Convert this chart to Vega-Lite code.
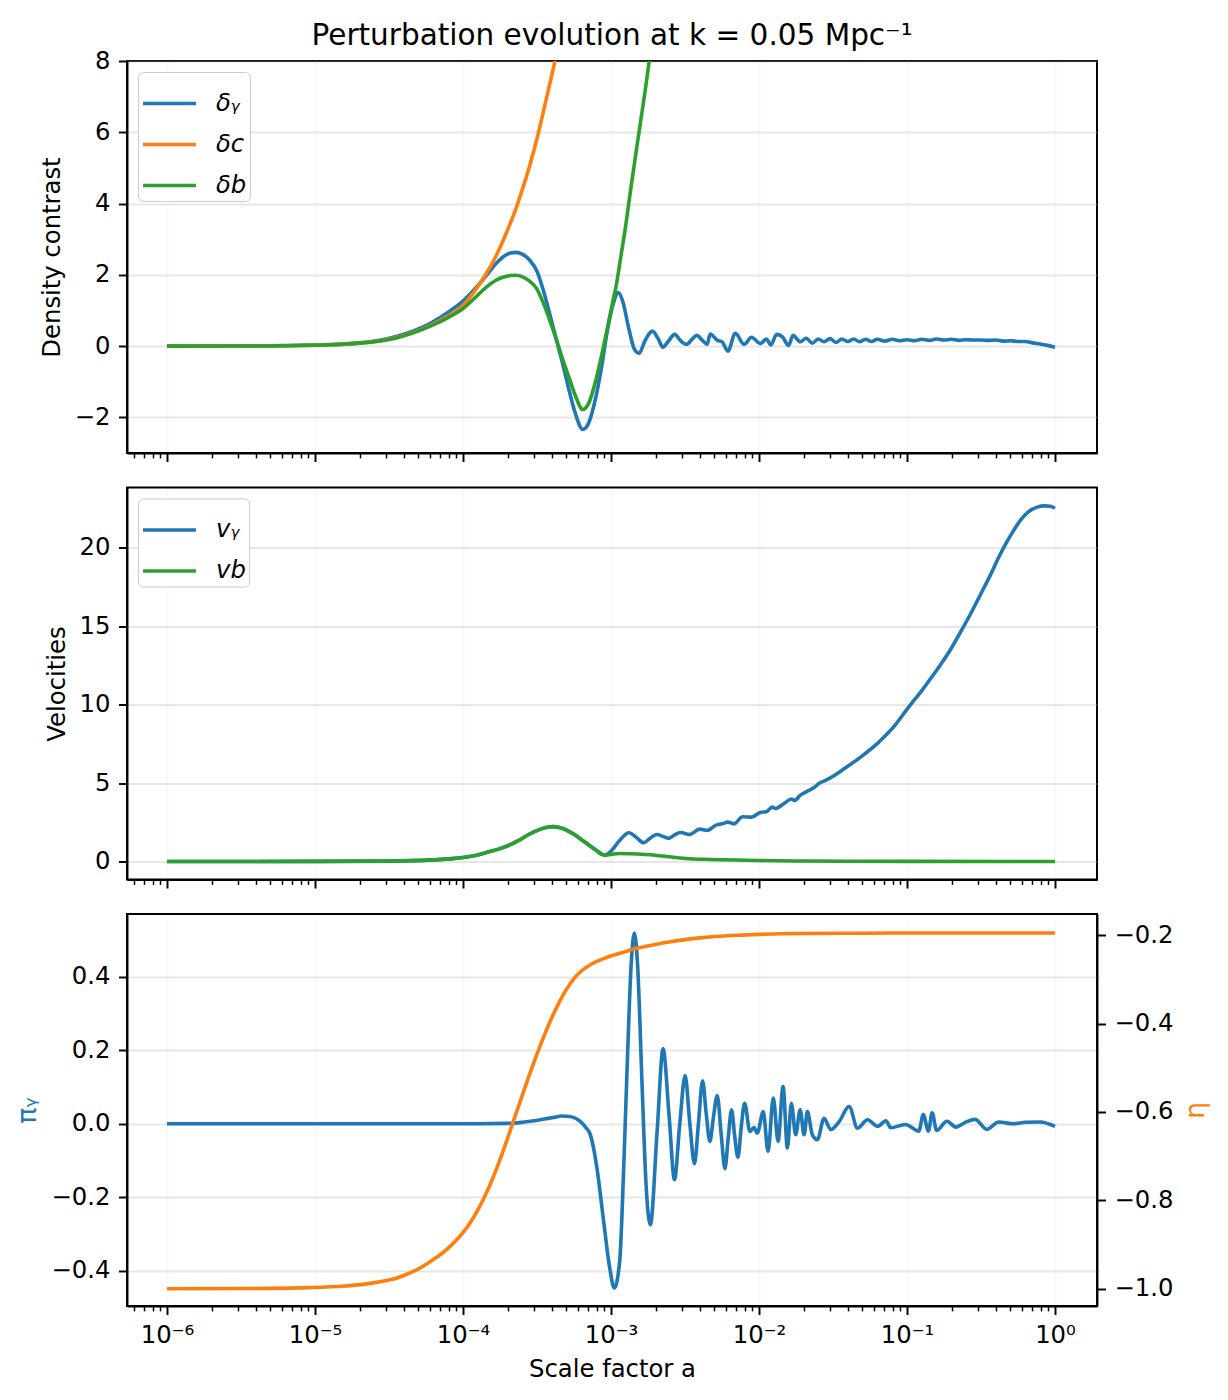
{
  "$schema": "https://vega.github.io/schema/vega-lite/v6.json",
  "background": "white",
  "padding": {"left": 12, "top": 20, "right": 10, "bottom": 10},
  "autosize": {"type": "pad"},
  "title": {"text": "Perturbation evolution at k = 0.05 Mpc⁻¹", "fontSize": 29.5, "font": "DejaVu Sans", "fontWeight": "normal", "color": "black", "anchor": "middle", "frame": "group", "offset": -26, "baseline": "alphabetic"},
  "bounds": "flush",
  "spacing": 34.5,
  "datasets": {
    "p1": [
      {"a":1e-6,"v":0,"s":"δᵧ"},{"a":3.162e-6,"v":0.002,"s":"δᵧ"},{"a":1e-5,"v":0.03,"s":"δᵧ"},{"a":1.995e-5,"v":0.09,"s":"δᵧ"},{"a":3.548e-5,"v":0.27,"s":"δᵧ"},{"a":6.026e-5,"v":0.64,"s":"δᵧ"},{"a":7.943e-5,"v":0.95,"s":"δᵧ"},{"a":1e-4,"v":1.26,"s":"δᵧ"},{"a":1.202e-4,"v":1.6,"s":"δᵧ"},{"a":1.445e-4,"v":1.99,"s":"δᵧ"},{"a":1.66e-4,"v":2.3,"s":"δᵧ"},{"a":1.862e-4,"v":2.5,"s":"δᵧ"},{"a":2.089e-4,"v":2.61,"s":"δᵧ"},{"a":2.291e-4,"v":2.63,"s":"δᵧ"},{"a":2.512e-4,"v":2.58,"s":"δᵧ"},{"a":2.818e-4,"v":2.42,"s":"δᵧ"},{"a":3.162e-4,"v":2.1,"s":"δᵧ"},{"a":3.467e-4,"v":1.61,"s":"δᵧ"},{"a":3.802e-4,"v":1.0,"s":"δᵧ"},{"a":4.266e-4,"v":0.2,"s":"δᵧ"},{"a":4.786e-4,"v":-0.6,"s":"δᵧ"},{"a":5.248e-4,"v":-1.29,"s":"δᵧ"},{"a":5.754e-4,"v":-1.9,"s":"δᵧ"},{"a":6.457e-4,"v":-2.34,"s":"δᵧ"},{"a":7.079e-4,"v":-2.15,"s":"δᵧ"},{"a":7.943e-4,"v":-1.39,"s":"δᵧ"},{"a":8.71e-4,"v":-0.5,"s":"δᵧ"},{"a":9.333e-4,"v":0.3,"s":"δᵧ"},{"a":1.023e-3,"v":1.1,"s":"δᵧ"},{"a":1.122e-3,"v":1.5,"s":"δᵧ"},{"a":1.202e-3,"v":1.25,"s":"δᵧ"},{"a":1.318e-3,"v":0.5,"s":"δᵧ"},{"a":1.445e-3,"v":-0.1,"s":"δᵧ"},{"a":1.549e-3,"v":-0.2,"s":"δᵧ"},{"a":1.698e-3,"v":0.15,"s":"δᵧ"},{"a":1.905e-3,"v":0.42,"s":"δᵧ"},{"a":2.089e-3,"v":0.2,"s":"δᵧ"},{"a":2.239e-3,"v":-0.03,"s":"δᵧ"},{"a":2.455e-3,"v":0.15,"s":"δᵧ"},{"a":2.692e-3,"v":0.33,"s":"δᵧ"},{"a":2.951e-3,"v":0.15,"s":"δᵧ"},{"a":3.236e-3,"v":0.05,"s":"δᵧ"},{"a":3.548e-3,"v":0.2,"s":"δᵧ"},{"a":3.802e-3,"v":0.3,"s":"δᵧ"},{"a":4.169e-3,"v":0.15,"s":"δᵧ"},{"a":4.467e-3,"v":0.05,"s":"δᵧ"},{"a":4.677e-3,"v":0.34,"s":"δᵧ"},{"a":5.248e-3,"v":0.16,"s":"δᵧ"},{"a":5.623e-3,"v":0.12,"s":"δᵧ"},{"a":6.166e-3,"v":-0.14,"s":"δᵧ"},{"a":6.918e-3,"v":0.36,"s":"δᵧ"},{"a":7.943e-3,"v":0.05,"s":"δᵧ"},{"a":8.913e-3,"v":0.25,"s":"δᵧ"},{"a":1.023e-2,"v":0.07,"s":"δᵧ"},{"a":1.122e-2,"v":0.2,"s":"δᵧ"},{"a":1.202e-2,"v":0.03,"s":"δᵧ"},{"a":1.318e-2,"v":0.33,"s":"δᵧ"},{"a":1.445e-2,"v":0.25,"s":"δᵧ"},{"a":1.585e-2,"v":0.02,"s":"δᵧ"},{"a":1.698e-2,"v":0.3,"s":"δᵧ"},{"a":1.905e-2,"v":0.12,"s":"δᵧ"},{"a":2.089e-2,"v":0.22,"s":"δᵧ"},{"a":2.291e-2,"v":0.08,"s":"δᵧ"},{"a":2.512e-2,"v":0.2,"s":"δᵧ"},{"a":2.754e-2,"v":0.12,"s":"δᵧ"},{"a":3.02e-2,"v":0.21,"s":"δᵧ"},{"a":3.311e-2,"v":0.1,"s":"δᵧ"},{"a":3.631e-2,"v":0.2,"s":"δᵧ"},{"a":3.981e-2,"v":0.13,"s":"δᵧ"},{"a":4.365e-2,"v":0.2,"s":"δᵧ"},{"a":4.786e-2,"v":0.12,"s":"δᵧ"},{"a":5.248e-2,"v":0.19,"s":"δᵧ"},{"a":5.754e-2,"v":0.13,"s":"δᵧ"},{"a":6.31e-2,"v":0.19,"s":"δᵧ"},{"a":7.079e-2,"v":0.14,"s":"δᵧ"},{"a":7.943e-2,"v":0.19,"s":"δᵧ"},{"a":8.913e-2,"v":0.15,"s":"δᵧ"},{"a":0.1,"v":0.18,"s":"δᵧ"},{"a":0.1122,"v":0.15,"s":"δᵧ"},{"a":0.1259,"v":0.19,"s":"δᵧ"},{"a":0.1413,"v":0.16,"s":"δᵧ"},{"a":0.1585,"v":0.2,"s":"δᵧ"},{"a":0.1778,"v":0.17,"s":"δᵧ"},{"a":0.1995,"v":0.19,"s":"δᵧ"},{"a":0.2239,"v":0.16,"s":"δᵧ"},{"a":0.2512,"v":0.18,"s":"δᵧ"},{"a":0.2818,"v":0.17,"s":"δᵧ"},{"a":0.3162,"v":0.17,"s":"δᵧ"},{"a":0.3548,"v":0.16,"s":"δᵧ"},{"a":0.3981,"v":0.17,"s":"δᵧ"},{"a":0.4467,"v":0.14,"s":"δᵧ"},{"a":0.5012,"v":0.15,"s":"δᵧ"},{"a":0.5623,"v":0.13,"s":"δᵧ"},{"a":0.631,"v":0.13,"s":"δᵧ"},{"a":0.7079,"v":0.09,"s":"δᵧ"},{"a":0.7943,"v":0.06,"s":"δᵧ"},{"a":0.8913,"v":0.02,"s":"δᵧ"},{"a":1.0,"v":-0.03,"s":"δᵧ"},
      {"a":1e-6,"v":0,"s":"δc"},{"a":3.162e-6,"v":0.002,"s":"δc"},{"a":1e-5,"v":0.025,"s":"δc"},{"a":1.995e-5,"v":0.08,"s":"δc"},{"a":3.548e-5,"v":0.24,"s":"δc"},{"a":6.026e-5,"v":0.58,"s":"δc"},{"a":7.943e-5,"v":0.85,"s":"δc"},{"a":1e-4,"v":1.14,"s":"δc"},{"a":1.202e-4,"v":1.55,"s":"δc"},{"a":1.445e-4,"v":2.05,"s":"δc"},{"a":1.66e-4,"v":2.5,"s":"δc"},{"a":1.862e-4,"v":2.95,"s":"δc"},{"a":2.089e-4,"v":3.45,"s":"δc"},{"a":2.291e-4,"v":3.88,"s":"δc"},{"a":2.512e-4,"v":4.38,"s":"δc"},{"a":2.818e-4,"v":5.05,"s":"δc"},{"a":3.162e-4,"v":5.82,"s":"δc"},{"a":3.548e-4,"v":6.7,"s":"δc"},{"a":3.981e-4,"v":7.6,"s":"δc"},{"a":4.266e-4,"v":8.15,"s":"δc"},
      {"a":1e-6,"v":0,"s":"δb"},{"a":3.162e-6,"v":0.002,"s":"δb"},{"a":1e-5,"v":0.025,"s":"δb"},{"a":1.995e-5,"v":0.08,"s":"δb"},{"a":3.548e-5,"v":0.23,"s":"δb"},{"a":6.026e-5,"v":0.56,"s":"δb"},{"a":7.943e-5,"v":0.8,"s":"δb"},{"a":1e-4,"v":1.05,"s":"δb"},{"a":1.202e-4,"v":1.35,"s":"δb"},{"a":1.445e-4,"v":1.66,"s":"δb"},{"a":1.66e-4,"v":1.84,"s":"δb"},{"a":1.862e-4,"v":1.93,"s":"δb"},{"a":2.089e-4,"v":1.98,"s":"δb"},{"a":2.291e-4,"v":1.99,"s":"δb"},{"a":2.512e-4,"v":1.95,"s":"δb"},{"a":2.818e-4,"v":1.82,"s":"δb"},{"a":3.162e-4,"v":1.6,"s":"δb"},{"a":3.467e-4,"v":1.24,"s":"δb"},{"a":3.802e-4,"v":0.8,"s":"δb"},{"a":4.266e-4,"v":0.2,"s":"δb"},{"a":4.786e-4,"v":-0.45,"s":"δb"},{"a":5.248e-4,"v":-0.92,"s":"δb"},{"a":5.754e-4,"v":-1.4,"s":"δb"},{"a":6.457e-4,"v":-1.78,"s":"δb"},{"a":7.079e-4,"v":-1.6,"s":"δb"},{"a":7.943e-4,"v":-0.92,"s":"δb"},{"a":8.71e-4,"v":-0.2,"s":"δb"},{"a":9.333e-4,"v":0.39,"s":"δb"},{"a":1.023e-3,"v":1.2,"s":"δb"},{"a":1.096e-3,"v":1.8,"s":"δb"},{"a":1.175e-3,"v":2.6,"s":"δb"},{"a":1.259e-3,"v":3.39,"s":"δb"},{"a":1.349e-3,"v":4.3,"s":"δb"},{"a":1.479e-3,"v":5.45,"s":"δb"},{"a":1.585e-3,"v":6.3,"s":"δb"},{"a":1.698e-3,"v":7.13,"s":"δb"},{"a":1.82e-3,"v":8.05,"s":"δb"}
    ],
    "p2": [
      {"a":1e-6,"v":0,"s":"vᵧ"},{"a":1e-5,"v":0.003,"s":"vᵧ"},{"a":3.162e-5,"v":0.02,"s":"vᵧ"},{"a":6.31e-5,"v":0.1,"s":"vᵧ"},{"a":1e-4,"v":0.25,"s":"vᵧ"},{"a":1.259e-4,"v":0.42,"s":"vᵧ"},{"a":1.514e-4,"v":0.63,"s":"vᵧ"},{"a":1.778e-4,"v":0.82,"s":"vᵧ"},{"a":2.089e-4,"v":1.08,"s":"vᵧ"},{"a":2.455e-4,"v":1.41,"s":"vᵧ"},{"a":2.818e-4,"v":1.75,"s":"vᵧ"},{"a":3.311e-4,"v":2.05,"s":"vᵧ"},{"a":3.802e-4,"v":2.2,"s":"vᵧ"},{"a":4.074e-4,"v":2.22,"s":"vᵧ"},{"a":4.467e-4,"v":2.17,"s":"vᵧ"},{"a":5.012e-4,"v":2.0,"s":"vᵧ"},{"a":5.623e-4,"v":1.73,"s":"vᵧ"},{"a":6.31e-4,"v":1.4,"s":"vᵧ"},{"a":7.079e-4,"v":1.05,"s":"vᵧ"},{"a":7.943e-4,"v":0.72,"s":"vᵧ"},{"a":8.71e-4,"v":0.45,"s":"vᵧ"},{"a":9.12e-4,"v":0.4,"s":"vᵧ"},
      {"a":1e-3,"v":0.66,"s":"vᵧ"},{"a":1.148e-3,"v":1.35,"s":"vᵧ"},{"a":1.318e-3,"v":1.83,"s":"vᵧ"},{"a":1.479e-3,"v":1.55,"s":"vᵧ"},{"a":1.66e-3,"v":1.19,"s":"vᵧ"},{"a":1.82e-3,"v":1.45,"s":"vᵧ"},{"a":2.042e-3,"v":1.72,"s":"vᵧ"},{"a":2.239e-3,"v":1.6,"s":"vᵧ"},{"a":2.455e-3,"v":1.47,"s":"vᵧ"},{"a":2.692e-3,"v":1.7,"s":"vᵧ"},{"a":2.951e-3,"v":1.85,"s":"vᵧ"},{"a":3.388e-3,"v":1.72,"s":"vᵧ"},{"a":3.981e-3,"v":2.06,"s":"vᵧ"},{"a":4.467e-3,"v":1.98,"s":"vᵧ"},{"a":5.129e-3,"v":2.32,"s":"vᵧ"},{"a":5.623e-3,"v":2.4,"s":"vᵧ"},{"a":6.166e-3,"v":2.51,"s":"vᵧ"},{"a":6.761e-3,"v":2.4,"s":"vᵧ"},{"a":7.762e-3,"v":2.85,"s":"vᵧ"},{"a":8.913e-3,"v":2.83,"s":"vᵧ"},{"a":1.023e-2,"v":3.13,"s":"vᵧ"},{"a":1.122e-2,"v":3.17,"s":"vᵧ"},{"a":1.23e-2,"v":3.47,"s":"vᵧ"},{"a":1.288e-2,"v":3.38,"s":"vᵧ"},{"a":1.479e-2,"v":3.7,"s":"vᵧ"},{"a":1.66e-2,"v":3.98,"s":"vᵧ"},{"a":1.738e-2,"v":3.89,"s":"vᵧ"},{"a":1.905e-2,"v":4.23,"s":"vᵧ"},{"a":2.138e-2,"v":4.5,"s":"vᵧ"},{"a":2.344e-2,"v":4.7,"s":"vᵧ"},{"a":2.57e-2,"v":5.0,"s":"vᵧ"},{"a":2.818e-2,"v":5.17,"s":"vᵧ"},{"a":3.311e-2,"v":5.55,"s":"vᵧ"},{"a":3.802e-2,"v":5.94,"s":"vᵧ"},{"a":4.467e-2,"v":6.4,"s":"vᵧ"},{"a":5.129e-2,"v":6.83,"s":"vᵧ"},{"a":6.026e-2,"v":7.35,"s":"vᵧ"},{"a":6.918e-2,"v":7.89,"s":"vᵧ"},{"a":8.318e-2,"v":8.7,"s":"vᵧ"},{"a":0.1,"v":9.7,"s":"vᵧ"},{"a":0.1122,"v":10.3,"s":"vᵧ"},{"a":0.1259,"v":10.9,"s":"vᵧ"},{"a":0.1479,"v":11.8,"s":"vᵧ"},{"a":0.1698,"v":12.6,"s":"vᵧ"},{"a":0.1995,"v":13.6,"s":"vᵧ"},{"a":0.2291,"v":14.6,"s":"vᵧ"},{"a":0.2692,"v":15.8,"s":"vᵧ"},{"a":0.309,"v":16.9,"s":"vᵧ"},{"a":0.3631,"v":18.2,"s":"vᵧ"},{"a":0.4169,"v":19.4,"s":"vᵧ"},{"a":0.4677,"v":20.3,"s":"vᵧ"},{"a":0.5248,"v":21.1,"s":"vᵧ"},{"a":0.5888,"v":21.8,"s":"vᵧ"},{"a":0.6607,"v":22.3,"s":"vᵧ"},{"a":0.7586,"v":22.6,"s":"vᵧ"},{"a":0.8511,"v":22.68,"s":"vᵧ"},{"a":0.9333,"v":22.65,"s":"vᵧ"},{"a":1.0,"v":22.53,"s":"vᵧ"},
      {"a":1e-6,"v":0,"s":"vb"},{"a":1e-5,"v":0.003,"s":"vb"},{"a":3.162e-5,"v":0.02,"s":"vb"},{"a":6.31e-5,"v":0.1,"s":"vb"},{"a":1e-4,"v":0.25,"s":"vb"},{"a":1.259e-4,"v":0.42,"s":"vb"},{"a":1.514e-4,"v":0.63,"s":"vb"},{"a":1.778e-4,"v":0.82,"s":"vb"},{"a":2.089e-4,"v":1.08,"s":"vb"},{"a":2.455e-4,"v":1.41,"s":"vb"},{"a":2.818e-4,"v":1.75,"s":"vb"},{"a":3.311e-4,"v":2.05,"s":"vb"},{"a":3.802e-4,"v":2.2,"s":"vb"},{"a":4.074e-4,"v":2.22,"s":"vb"},{"a":4.467e-4,"v":2.17,"s":"vb"},{"a":5.012e-4,"v":2.0,"s":"vb"},{"a":5.623e-4,"v":1.73,"s":"vb"},{"a":6.31e-4,"v":1.4,"s":"vb"},{"a":7.079e-4,"v":1.05,"s":"vb"},{"a":7.943e-4,"v":0.72,"s":"vb"},{"a":8.71e-4,"v":0.45,"s":"vb"},{"a":9.12e-4,"v":0.4,"s":"vb"},
      {"a":1e-3,"v":0.45,"s":"vb"},{"a":1.148e-3,"v":0.51,"s":"vb"},{"a":1.349e-3,"v":0.49,"s":"vb"},{"a":1.995e-3,"v":0.4,"s":"vb"},{"a":2.57e-3,"v":0.28,"s":"vb"},{"a":3.388e-3,"v":0.17,"s":"vb"},{"a":4.677e-3,"v":0.13,"s":"vb"},{"a":1e-2,"v":0.06,"s":"vb"},{"a":1.995e-2,"v":0.03,"s":"vb"},{"a":3.981e-2,"v":0.01,"s":"vb"},{"a":0.1,"v":0.005,"s":"vb"},{"a":1.0,"v":0,"s":"vb"}
    ],
    "pi": [
      {"a":1e-6,"v":0},{"a":1e-4,"v":0},{"a":1.995e-4,"v":0.001},{"a":2.512e-4,"v":0.004},{"a":3.02e-4,"v":0.008},{"a":3.548e-4,"v":0.013},{"a":4.074e-4,"v":0.017},{"a":4.677e-4,"v":0.021},{"a":5.248e-4,"v":0.02},{"a":5.754e-4,"v":0.015},{"a":6.166e-4,"v":0.007},{"a":6.761e-4,"v":-0.01},{"a":7.244e-4,"v":-0.029},{"a":8.035e-4,"v":-0.12},{"a":8.913e-4,"v":-0.264},{"a":9.795e-4,"v":-0.391},{"a":1.054e-3,"v":-0.447},{"a":1.146e-3,"v":-0.373},{"a":1.219e-3,"v":-0.12},{"a":1.297e-3,"v":0.197},{"a":1.365e-3,"v":0.424},{"a":1.439e-3,"v":0.519},{"a":1.517e-3,"v":0.424},{"a":1.622e-3,"v":0.107},{"a":1.726e-3,"v":-0.165},{"a":1.845e-3,"v":-0.275},{"a":2.051e-3,"v":-0.02},{"a":2.249e-3,"v":0.204},{"a":2.472e-3,"v":0.02},{"a":2.685e-3,"v":-0.152},{"a":2.917e-3,"v":0.0},{"a":3.17e-3,"v":0.131},{"a":3.412e-3,"v":0.0},{"a":3.664e-3,"v":-0.109},{"a":3.899e-3,"v":0.0},{"a":4.159e-3,"v":0.117},{"a":4.395e-3,"v":0.03},{"a":4.656e-3,"v":-0.048},{"a":4.932e-3,"v":0.02},{"a":5.224e-3,"v":0.077},{"a":5.559e-3,"v":-0.03},{"a":5.888e-3,"v":-0.122},{"a":6.194e-3,"v":-0.04},{"a":6.531e-3,"v":0.038},{"a":6.839e-3,"v":-0.03},{"a":7.211e-3,"v":-0.091},{"a":7.586e-3,"v":-0.01},{"a":7.998e-3,"v":0.056},{"a":8.69e-3,"v":-0.021},{"a":9.247e-3,"v":-0.01},{"a":9.75e-3,"v":-0.025},{"a":1.069e-2,"v":0.033},{"a":1.151e-2,"v":-0.075},{"a":1.25e-2,"v":0.07},{"a":1.346e-2,"v":-0.048},{"a":1.455e-2,"v":0.101},{"a":1.556e-2,"v":-0.066},{"a":1.656e-2,"v":0.056},{"a":1.77e-2,"v":-0.03},{"a":1.897e-2,"v":0.038},{"a":2.018e-2,"v":-0.03},{"a":2.123e-2,"v":0.033},{"a":2.296e-2,"v":-0.03},{"a":2.483e-2,"v":-0.043},{"a":2.754e-2,"v":0.015},{"a":3.055e-2,"v":-0.016},{"a":3.483e-2,"v":0.006},{"a":4.064e-2,"v":0.047},{"a":4.634e-2,"v":-0.012},{"a":5.42e-2,"v":0.011},{"a":6.324e-2,"v":-0.007},{"a":7.211e-2,"v":0.008},{"a":7.762e-2,"v":-0.011},{"a":9.772e-2,"v":-0.002},{"a":0.1202,"v":-0.02},{"a":0.1288,"v":0.025},{"a":0.1396,"v":-0.02},{"a":0.1479,"v":0.03},{"a":0.1585,"v":-0.018},{"a":0.1862,"v":0.007},{"a":0.2138,"v":-0.009},{"a":0.2512,"v":0.005},{"a":0.2884,"v":0.012},{"a":0.3467,"v":-0.015},{"a":0.4169,"v":0.005},{"a":0.5248,"v":0.0},{"a":0.631,"v":0.004},{"a":0.7943,"v":0.005},{"a":1.0,"v":-0.007}
    ],
    "eta": [
      {"a":1e-6,"v":-1.0},{"a":3.162e-6,"v":-0.9995},{"a":7.943e-6,"v":-0.998},{"a":1.413e-5,"v":-0.995},{"a":2.239e-5,"v":-0.989},{"a":3.162e-5,"v":-0.98},{"a":3.548e-5,"v":-0.976},{"a":3.981e-5,"v":-0.97},{"a":4.467e-5,"v":-0.963},{"a":5.012e-5,"v":-0.955},{"a":5.623e-5,"v":-0.945},{"a":6.31e-5,"v":-0.934},{"a":7.079e-5,"v":-0.922},{"a":7.943e-5,"v":-0.908},{"a":8.913e-5,"v":-0.892},{"a":1e-4,"v":-0.873},{"a":1.122e-4,"v":-0.85},{"a":1.259e-4,"v":-0.822},{"a":1.413e-4,"v":-0.789},{"a":1.585e-4,"v":-0.751},{"a":1.778e-4,"v":-0.708},{"a":1.995e-4,"v":-0.661},{"a":2.239e-4,"v":-0.612},{"a":2.512e-4,"v":-0.563},{"a":2.818e-4,"v":-0.515},{"a":3.162e-4,"v":-0.469},{"a":3.548e-4,"v":-0.426},{"a":3.981e-4,"v":-0.387},{"a":4.467e-4,"v":-0.352},{"a":5.012e-4,"v":-0.322},{"a":5.623e-4,"v":-0.298},{"a":6.31e-4,"v":-0.281},{"a":7.079e-4,"v":-0.269},{"a":7.943e-4,"v":-0.26},{"a":8.913e-4,"v":-0.253},{"a":1e-3,"v":-0.247},{"a":1.122e-3,"v":-0.242},{"a":1.259e-3,"v":-0.237},{"a":1.413e-3,"v":-0.232},{"a":1.585e-3,"v":-0.228},{"a":1.995e-3,"v":-0.221},{"a":2.512e-3,"v":-0.215},{"a":3.162e-3,"v":-0.21},{"a":3.981e-3,"v":-0.206},{"a":5.012e-3,"v":-0.203},{"a":7.079e-3,"v":-0.2},{"a":1e-2,"v":-0.198},{"a":1.995e-2,"v":-0.196},{"a":5.012e-2,"v":-0.1955},{"a":0.1,"v":-0.195},{"a":1.0,"v":-0.195}
    ]
  },
  "vconcat": [
    {
      "width": 970, "height": 392,
      "data": {"name": "p1"},
      "mark": {"type": "line", "strokeWidth": 3.6, "clip": true, "interpolate": "monotone"},
      "encoding": {
        "x": {"field": "a", "type": "quantitative", "scale": {"type": "log", "domain": [5.37e-7, 1.923], "nice": false},
          "axis": {"title": null, "labels": false, "values": [6e-7,7e-7,8e-7,9e-7,1e-6,2e-6,3e-6,4e-6,5e-6,6e-6,7e-6,8e-6,9e-6,1e-5,2e-5,3e-5,4e-5,5e-5,6e-5,7e-5,8e-5,9e-5,0.0001,0.0002,0.0003,0.0004,0.0005,0.0006,0.0007,0.0008,0.0009,0.001,0.002,0.003,0.004,0.005,0.006,0.007,0.008,0.009,0.01,0.02,0.03,0.04,0.05,0.06,0.07,0.08,0.09,0.1,0.2,0.3,0.4,0.5,0.6,0.7,0.8,0.9,1],
            "tickSize": {"condition": {"test": "abs(log(datum.value)/LN10 - round(log(datum.value)/LN10)) < 0.001", "value": 8.5}, "value": 4.9},
            "tickWidth": {"condition": {"test": "abs(log(datum.value)/LN10 - round(log(datum.value)/LN10)) < 0.001", "value": 1.94}, "value": 1.46},
            "gridOpacity": {"condition": {"test": "abs(log(datum.value)/LN10 - round(log(datum.value)/LN10)) < 0.001", "value": 0.3}, "value": 0}}},
        "y": {"field": "v", "type": "quantitative", "scale": {"domain": [-3, 8], "nice": false, "zero": false},
          "axis": {"title": "Density contrast", "values": [-2, 0, 2, 4, 6, 8]}},
        "color": {"field": "s", "type": "nominal", "sort": null,
          "scale": {"domain": ["δᵧ", "δc", "δb"], "range": ["#1f77b4", "#ff7f0e", "#2ca02c"]},
          "legend": {"title": null, "orient": "top-left", "offset": 11}}
      }
    },
    {
      "width": 970, "height": 392,
      "data": {"name": "p2"},
      "mark": {"type": "line", "strokeWidth": 3.6, "clip": true, "interpolate": "monotone"},
      "encoding": {
        "x": {"field": "a", "type": "quantitative", "scale": {"type": "log", "domain": [5.37e-7, 1.923], "nice": false},
          "axis": {"title": null, "labels": false, "values": [6e-7,7e-7,8e-7,9e-7,1e-6,2e-6,3e-6,4e-6,5e-6,6e-6,7e-6,8e-6,9e-6,1e-5,2e-5,3e-5,4e-5,5e-5,6e-5,7e-5,8e-5,9e-5,0.0001,0.0002,0.0003,0.0004,0.0005,0.0006,0.0007,0.0008,0.0009,0.001,0.002,0.003,0.004,0.005,0.006,0.007,0.008,0.009,0.01,0.02,0.03,0.04,0.05,0.06,0.07,0.08,0.09,0.1,0.2,0.3,0.4,0.5,0.6,0.7,0.8,0.9,1],
            "tickSize": {"condition": {"test": "abs(log(datum.value)/LN10 - round(log(datum.value)/LN10)) < 0.001", "value": 8.5}, "value": 4.9},
            "tickWidth": {"condition": {"test": "abs(log(datum.value)/LN10 - round(log(datum.value)/LN10)) < 0.001", "value": 1.94}, "value": 1.46},
            "gridOpacity": {"condition": {"test": "abs(log(datum.value)/LN10 - round(log(datum.value)/LN10)) < 0.001", "value": 0.3}, "value": 0}}},
        "y": {"field": "v", "type": "quantitative", "scale": {"domain": [-1.15, 23.85], "nice": false, "zero": false},
          "axis": {"title": "Velocities", "values": [0, 5, 10, 15, 20]}},
        "color": {"field": "s", "type": "nominal", "sort": null,
          "scale": {"domain": ["vᵧ", "vb"], "range": ["#1f77b4", "#2ca02c"]},
          "legend": {"title": null, "orient": "top-left", "offset": 11}}
      }
    },
    {
      "width": 970, "height": 392,
      "layer": [
        {
          "data": {"name": "pi"},
          "mark": {"type": "line", "strokeWidth": 3.6, "clip": true, "color": "#1f77b4", "interpolate": "monotone"},
          "encoding": {
            "x": {"field": "a", "type": "quantitative", "scale": {"type": "log", "domain": [5.37e-7, 1.923], "nice": false},
              "axis": {"title": "Scale factor a", "labelOverlap": false, "labelFlush": false, "labelBound": false, "values": [6e-7,7e-7,8e-7,9e-7,1e-6,2e-6,3e-6,4e-6,5e-6,6e-6,7e-6,8e-6,9e-6,1e-5,2e-5,3e-5,4e-5,5e-5,6e-5,7e-5,8e-5,9e-5,0.0001,0.0002,0.0003,0.0004,0.0005,0.0006,0.0007,0.0008,0.0009,0.001,0.002,0.003,0.004,0.005,0.006,0.007,0.008,0.009,0.01,0.02,0.03,0.04,0.05,0.06,0.07,0.08,0.09,0.1,0.2,0.3,0.4,0.5,0.6,0.7,0.8,0.9,1],
                "labelExpr": "abs(log(datum.value)/LN10 - round(log(datum.value)/LN10)) < 0.001 ? '10' + (round(log(datum.value)/LN10) < 0 ? '⁻' : '') + ['⁰','¹','²','³','⁴','⁵','⁶'][abs(round(log(datum.value)/LN10))] : ''",
                "tickSize": {"condition": {"test": "abs(log(datum.value)/LN10 - round(log(datum.value)/LN10)) < 0.001", "value": 8.5}, "value": 4.9},
                "tickWidth": {"condition": {"test": "abs(log(datum.value)/LN10 - round(log(datum.value)/LN10)) < 0.001", "value": 1.94}, "value": 1.46},
                "gridOpacity": {"condition": {"test": "abs(log(datum.value)/LN10 - round(log(datum.value)/LN10)) < 0.001", "value": 0.3}, "value": 0}}},
            "y": {"field": "v", "type": "quantitative", "scale": {"domain": [-0.496, 0.571], "nice": false, "zero": false},
              "axis": {"title": "πᵧ", "titleColor": "#1f77b4", "titleFontSize": 27, "values": [-0.4, -0.2, 0, 0.2, 0.4], "format": ".1f"}}
          }
        },
        {
          "data": {"name": "eta"},
          "mark": {"type": "line", "strokeWidth": 3.6, "clip": true, "color": "#ff7f0e", "interpolate": "monotone"},
          "encoding": {
            "x": {"field": "a", "type": "quantitative", "scale": {"type": "log", "domain": [5.37e-7, 1.923], "nice": false}},
            "y": {"field": "v", "type": "quantitative", "scale": {"domain": [-1.039, -0.152], "nice": false, "zero": false},
              "axis": {"title": "η", "titleColor": "#ff7f0e", "titleFontSize": 27, "orient": "right", "grid": false, "values": [-1, -0.8, -0.6, -0.4, -0.2], "format": ".1f", "titleAngle": 270, "titleBaseline": "top"}}
          }
        }
      ],
      "resolve": {"scale": {"y": "independent"}}
    }
  ],
  "resolve": {"scale": {"color": "independent", "y": "independent"}, "legend": {"color": "independent"}},
  "config": {
    "font": "DejaVu Sans",
    "view": {"stroke": "black", "strokeWidth": 1.94},
    "axis": {"labelFontSize": 24.3, "labelFont": "DejaVu Sans", "labelColor": "black", "titleFontSize": 24.3, "titleFont": "DejaVu Sans", "titleFontWeight": "normal", "titleColor": "black", "tickColor": "black", "tickWidth": 1.94, "tickSize": 8.5, "domainColor": "black", "domainWidth": 1.94, "gridColor": "#b0b0b0", "gridOpacity": 0.3, "gridWidth": 1.94, "labelPadding": 8.5, "titlePadding": 9.7},
    "legend": {"symbolType": "stroke", "symbolStrokeWidth": 3.6, "symbolSize": 2800, "labelFontSize": 24.3, "labelFont": "DejaVu Sans", "labelFontStyle": "italic", "labelColor": "black", "padding": 3, "strokeColor": "#cccccc", "fillColor": "white", "cornerRadius": 5, "rowPadding": -1, "labelOffset": 18}
  }
}
